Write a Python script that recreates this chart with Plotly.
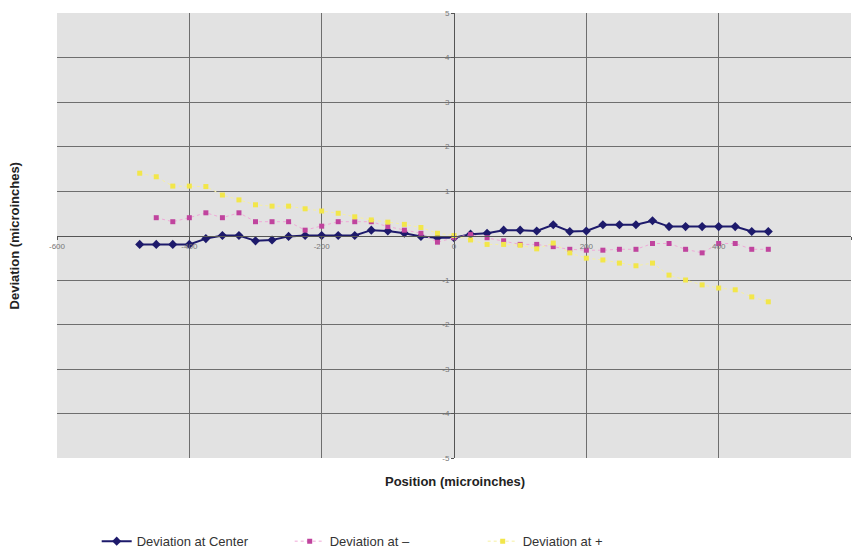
import plotly.graph_objects as go

# ---- data ----
x_center = [-475, -450, -425, -400, -375, -350, -325, -300, -275, -250, -225, -200, -175, -150,
            -125, -100, -75, -50, -25, 0, 25, 50, 75, 100, 125, 150, 175, 200, 225, 250, 275,
            300, 325, 350, 375, 400, 425, 450, 475]
y_center = [-0.20, -0.20, -0.20, -0.20, -0.07, 0.00, 0.00, -0.12, -0.10, -0.02, 0.00, 0.00, 0.00, 0.00,
            0.12, 0.10, 0.05, -0.02, -0.05, -0.05, 0.03, 0.05, 0.12, 0.12, 0.10, 0.24, 0.09, 0.10,
            0.24, 0.24, 0.24, 0.33, 0.20, 0.20, 0.20, 0.20, 0.20, 0.09, 0.09]

x_minus = [-450, -425, -400, -375, -350, -325, -300, -275, -250, -225, -200, -175, -150,
           -125, -100, -75, -50, -25, 0, 25, 50, 75, 100, 125, 150, 175, 200, 225, 250, 275,
           300, 325, 350, 375, 400, 425, 450, 475]
y_minus = [0.40, 0.31, 0.40, 0.51, 0.40, 0.51, 0.31, 0.31, 0.31, 0.12, 0.21, 0.31, 0.31,
           0.31, 0.20, 0.12, 0.05, -0.15, -0.05, 0.02, -0.05, -0.12, -0.20, -0.20, -0.25, -0.31,
           -0.33, -0.33, -0.31, -0.31, -0.18, -0.18, -0.31, -0.39, -0.18, -0.18, -0.31, -0.31]

x_plus = [-475, -450, -425, -400, -375, -350, -325, -300, -275, -250, -225, -200, -175, -150,
          -125, -100, -75, -50, -25, 0, 25, 50, 75, 100, 125, 150, 175, 200, 225, 250, 275,
          300, 325, 350, 375, 400, 425, 450, 475]
y_plus = [1.40, 1.32, 1.11, 1.11, 1.10, 0.91, 0.80, 0.69, 0.66, 0.66, 0.60, 0.55, 0.50, 0.42,
          0.35, 0.30, 0.25, 0.18, 0.05, 0.00, -0.10, -0.20, -0.20, -0.22, -0.30, -0.17, -0.39,
          -0.51, -0.55, -0.62, -0.68, -0.62, -0.89, -1.00, -1.11, -1.18, -1.22, -1.38, -1.49]

x_ticks = [-600, -400, -200, 0, 200, 400, 600]
y_ticks = [-5, -4, -3, -2, -1, 1, 2, 3, 4, 5]

names = ["Deviation at Center", "Deviation at \u2013", "Deviation at +"]

FONT = "Liberation Sans, Arial, sans-serif"

fig = go.Figure()
fig.add_trace(go.Scatter(x=x_center, y=y_center, name=names[0], mode="lines+markers",
                         line=dict(color="#1d1a6b", width=2),
                         marker=dict(symbol="diamond", size=7, color="#1d1a6b")))
fig.add_trace(go.Scatter(x=x_minus, y=y_minus, name=names[1], mode="lines+markers",
                         line=dict(color="#f0a8d8", width=1, dash="dot"),
                         marker=dict(symbol="square", size=5, color="#c0449e")))
fig.add_trace(go.Scatter(x=x_plus, y=y_plus, name=names[2], mode="lines+markers",
                         line=dict(color="#f6f0a0", width=1, dash="dot"),
                         marker=dict(symbol="square", size=5, color="#f2e64a")))

fig.update_layout(
    width=856, height=554,
    margin=dict(l=57, r=5, t=13, b=96, autoexpand=False),
    paper_bgcolor="white",
    plot_bgcolor="#e2e2e2",
    font=dict(family=FONT, color="#333333"),
    showlegend=True,
    legend=dict(orientation="h", x=0.05, xanchor="left", y=-0.187, yanchor="middle",
                font=dict(size=13, color="#333333"), entrywidth=148,
                bgcolor="rgba(0,0,0,0)"),
    xaxis=dict(range=[-600, 600], tickvals=x_ticks, ticktext=[str(v) for v in x_ticks],
               showgrid=True, gridcolor="#6e6e6e", gridwidth=1, zeroline=False,
               anchor="free", position=0.5, showline=True, linecolor="#555555", linewidth=1,
               ticks="outside", ticklen=3, tickcolor="#555555", automargin=False,
               tickfont=dict(size=8, color="#777777")),
    yaxis=dict(range=[-5, 5], tickvals=y_ticks, ticktext=[str(v) for v in y_ticks],
               showgrid=True, gridcolor="#6e6e6e", gridwidth=1, zeroline=False,
               anchor="free", position=0.5, showline=True, linecolor="#555555", linewidth=1,
               ticks="outside", ticklen=3, tickcolor="#555555", automargin=False,
               tickfont=dict(size=8, color="#777777")),
    annotations=[
        dict(text="<b>Position (microinches)</b>", xref="paper", yref="paper",
             x=0.5016, y=-0.052, xanchor="center", yanchor="middle", showarrow=False,
             font=dict(size=13, color="#222222", family=FONT)),
        dict(text="<b>Deviation (microinches)</b>", xref="paper", yref="paper",
             x=-0.053, y=0.5, xanchor="center", yanchor="middle", showarrow=False,
             textangle=-90, font=dict(size=13, color="#222222", family=FONT)),
    ],
)

fig.write_html("out.html", config={"displayModeBar": False},
               post_script="document.body.style.margin='0';document.body.style.overflow='hidden';")
